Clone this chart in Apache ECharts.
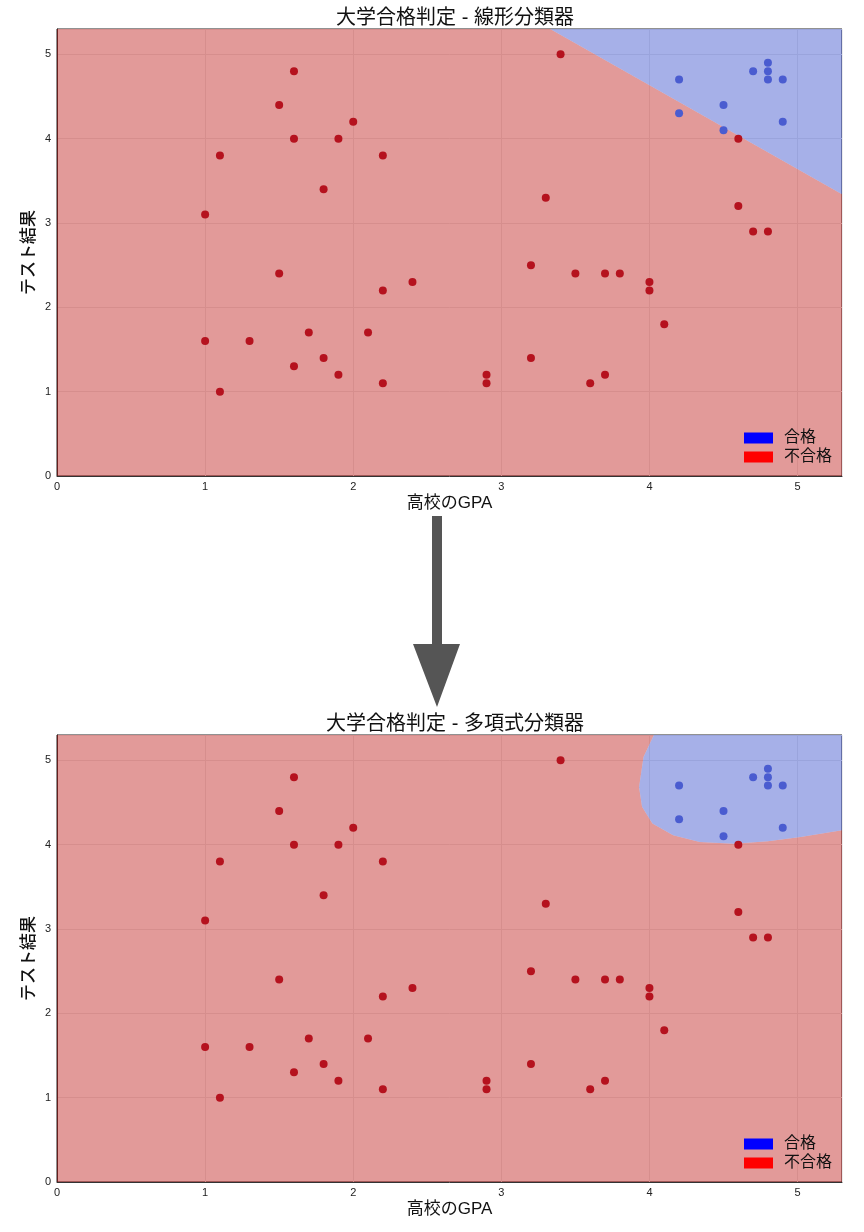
<!DOCTYPE html>
<html>
<head>
<meta charset="utf-8">
<script src="https://cdn.jsdelivr.net/npm/echarts@6/dist/echarts.min.js"></script>
<style>
  html, body { margin: 0; padding: 0; background: #fff; }
  #main { width: 864px; height: 1232px; }
</style>
</head>
<body>
<div id="main"></div>
<script>
// 学生データ (高校のGPA, テスト結果)
var passPoints = [
  [4.2, 4.7], [4.2, 4.3], [4.5, 4.4], [4.5, 4.1], [4.7, 4.8],
  [4.8, 4.9], [4.8, 4.8], [4.8, 4.7], [4.9, 4.7], [4.9, 4.2]
];
var failPoints = [
  [1.6, 4.8], [1.5, 4.4], [1.6, 4.0], [1.9, 4.0], [2.0, 4.2], [1.1, 3.8],
  [2.2, 3.8], [1.8, 3.4], [1.0, 3.1], [3.4, 5.0], [3.3, 3.3], [4.6, 4.0],
  [4.6, 3.2], [4.7, 2.9], [4.8, 2.9], [1.5, 2.4], [2.2, 2.2], [2.4, 2.3],
  [1.0, 1.6], [1.3, 1.6], [1.7, 1.7], [2.1, 1.7], [1.8, 1.4], [1.6, 1.3],
  [1.9, 1.2], [2.2, 1.1], [1.1, 1.0], [3.2, 2.5], [3.5, 2.4], [3.7, 2.4],
  [3.8, 2.4], [4.0, 2.3], [4.0, 2.2], [4.1, 1.8], [3.2, 1.4], [2.9, 1.2],
  [2.9, 1.1], [3.6, 1.1], [3.7, 1.2]
];

// 決定境界 (上端 -> 右端)
var linearBoundary = [[3.33, 5.3], [5.3, 3.34]];
var polyBoundary = [
  [4.03, 5.3], [3.96, 5.04], [3.93, 4.68], [3.95, 4.45], [4.02, 4.25],
  [4.16, 4.11], [4.34, 4.03], [4.57, 4.01], [4.80, 4.04], [5.02, 4.09],
  [5.3, 4.17]
];

var axisMax = 5.3;
var titles = ['大学合格判定 - 線形分類器', '大学合格判定 - 多項式分類器'];
var legendNames = ['合格', '不合格'];

var FONT = "'Liberation Sans', 'Noto Sans CJK JP', sans-serif";
var RED_AREA = 'rgba(183, 3, 0, 0.4)';
var BLUE_AREA = 'rgba(33, 58, 198, 0.4)';

var myChart = echarts.init(document.getElementById('main'));

function passRegion(boundary) {
  return boundary.concat([[axisMax, axisMax]]);
}
function failRegion(boundary) {
  return [[0, 0], [0, axisMax]].concat(boundary, [[axisMax, 0]]);
}
function regionItem(poly, color) {
  return function (params, api) {
    return {
      type: 'polygon',
      shape: { points: poly.map(function (p) { return api.coord(p); }) },
      style: { fill: color }
    };
  };
}

var gridTops = [29, 735];
var boundaries = [linearBoundary, polyBoundary];

var grids = [], xAxes = [], yAxes = [], series = [], titleList = [], legends = [];

for (var i = 0; i < 2; i++) {
  grids.push({
    left: 57, right: 22, top: gridTops[i], height: 447,
    show: true, borderColor: '#222', borderWidth: 1, backgroundColor: 'transparent'
  });
  titleList.push({
    text: titles[i], left: 450, top: gridTops[i] - 26, textAlign: 'center',
    textStyle: { fontFamily: FONT, fontSize: 20, fontWeight: 'normal', color: '#111' }
  });
  xAxes.push({
    gridIndex: i, type: 'value', min: 0, max: axisMax, interval: 1,
    name: '高校のGPA', nameLocation: 'middle', nameGap: 19,
    nameTextStyle: { fontFamily: FONT, fontSize: 17, color: '#111' },
    axisLine: { show: true, lineStyle: { color: '#333' } },
    axisTick: { show: false },
    axisLabel: { fontFamily: FONT, fontSize: 11, color: '#222', margin: 5, showMaxLabel: false },
    splitLine: { show: true, lineStyle: { color: '#ececec' } }
  });
  yAxes.push({
    gridIndex: i, type: 'value', min: 0, max: axisMax, interval: 1,
    name: 'テスト結果', nameLocation: 'middle', nameGap: 19, nameRotate: 90,
    nameMoveOverlap: false,
    nameTextStyle: { fontFamily: FONT, fontSize: 17, fontWeight: 500, color: '#111' },
    axisLine: { show: true, lineStyle: { color: '#333' } },
    axisTick: { show: false },
    axisLabel: { fontFamily: FONT, fontSize: 11, color: '#222', margin: 6, showMaxLabel: false },
    splitLine: { show: true, lineStyle: { color: '#ececec' } }
  });
  series.push({
    name: '判定領域', type: 'custom', xAxisIndex: i, yAxisIndex: i,
    renderItem: regionItem(failRegion(boundaries[i]), RED_AREA),
    data: [[0, 0]], clip: true, silent: true, z: 1
  });
  series.push({
    name: '判定領域', type: 'custom', xAxisIndex: i, yAxisIndex: i,
    renderItem: regionItem(passRegion(boundaries[i]), BLUE_AREA),
    data: [[0, 0]], clip: true, silent: true, z: 1
  });
  series.push({
    name: legendNames[0], type: 'scatter', xAxisIndex: i, yAxisIndex: i,
    data: passPoints, symbolSize: 8, z: 3,
    itemStyle: { color: '#4a5cd0', opacity: 1 }
  });
  series.push({
    name: legendNames[1], type: 'scatter', xAxisIndex: i, yAxisIndex: i,
    data: failPoints, symbolSize: 8, z: 3,
    itemStyle: { color: '#b5121e', opacity: 1 }
  });
  legends.push({
    orient: 'vertical', left: 739, top: gridTops[i] + 396,
    icon: 'rect', itemWidth: 29, itemHeight: 11, itemGap: 3,
    selectedMode: false,
    textStyle: { fontFamily: FONT, fontSize: 16, color: '#111', lineHeight: 16, padding: [0, 0, 0, 6] },
    data: [
      { name: legendNames[0], itemStyle: { color: '#0000ff' } },
      { name: legendNames[1], itemStyle: { color: '#ff0000' } }
    ]
  });
}

var option = {
  backgroundColor: '#fff',
  animation: false,
  title: titleList,
  grid: grids,
  xAxis: xAxes,
  yAxis: yAxes,
  legend: legends,
  series: series,
  graphic: [{
    type: 'polygon',
    shape: {
      points: [[432, 516], [442, 516], [442, 644], [460, 644], [437, 707], [413, 644], [432, 644]]
    },
    style: { fill: '#555' }
  }]
};

myChart.setOption(option);
</script>
</body>
</html>
